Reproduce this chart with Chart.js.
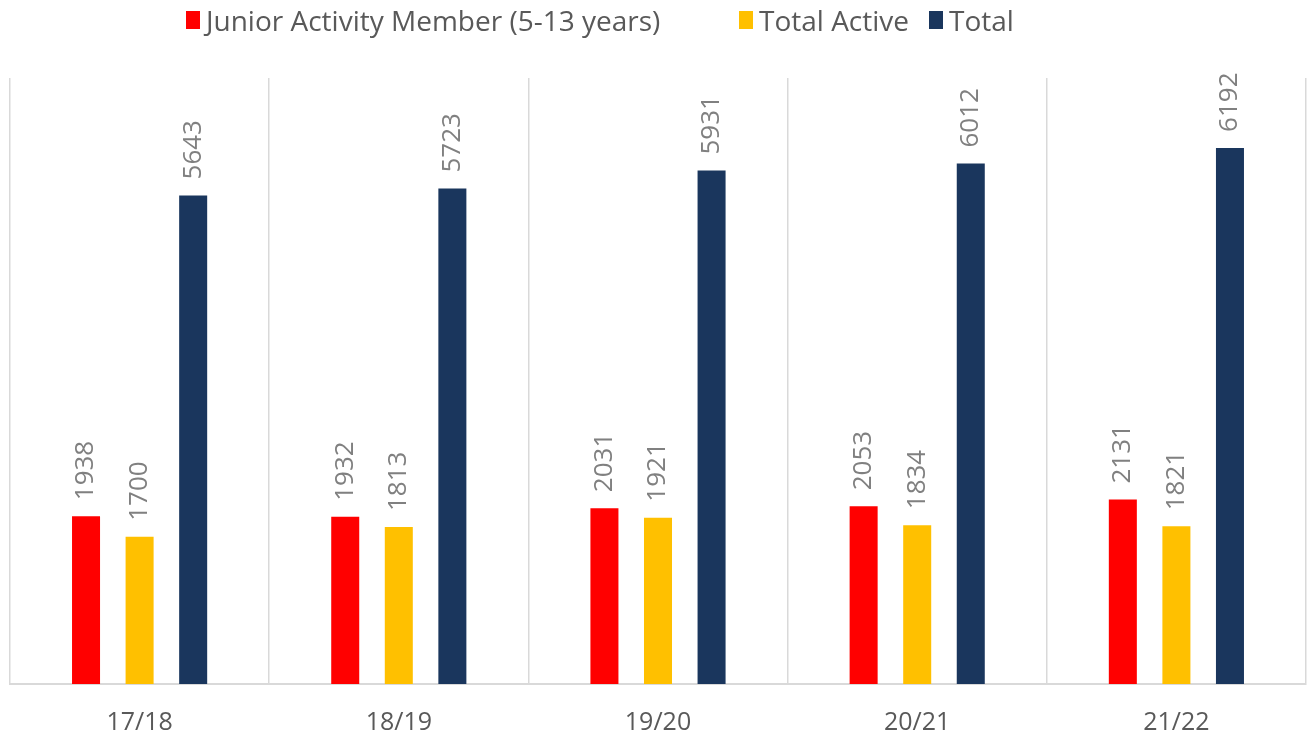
<!DOCTYPE html>
<html lang="en">
<head>
  <meta charset="UTF-8" />
  <title>Membership by season</title>
  <script src="https://cdn.jsdelivr.net/npm/chart.js"></script>
  <style>
    html, body { margin: 0; padding: 0; background: #fff; }
    body { width: 1312px; height: 737px; position: relative; overflow: hidden; font-family: 'Open Sans', sans-serif; }
    #wrap { position: absolute; left: 0; top: 0; width: 1312px; height: 737px; }
    .legend {
      position: absolute; left: 186px; top: 1px;
      display: flex; align-items: center;
      font-size: 28px; color: #595959; white-space: nowrap;
    }
    .legend span { display: inline-flex; align-items: center; flex-shrink: 0; }
    .legend i { display: inline-block; width: 14px; height: 18px; margin-right: 6px; }
  </style>
</head>
<body>
  <div id="wrap"><canvas id="chart"></canvas></div>
  <div class="legend" id="legend"></div>

  <script>
    // data
    const seasons = ['17/18', '18/19', '19/20', '20/21', '21/22'];
    const junior = [1938, 1932, 2031, 2053, 2131];
    const totalActive = [1700, 1813, 1921, 1834, 1821];
    const total = [5643, 5723, 5931, 6012, 6192];

    const seriesNames = ['Junior Activity Member (5-13 years)', 'Total Active', 'Total'];
    const seriesColors = ['#ff0000', '#ffc000', '#1a365d'];
    const legendWidths = [553, 190, 120];

    // html legend
    const legendEl = document.getElementById('legend');
    seriesNames.forEach((name, i) => {
      const s = document.createElement('span');
      s.style.width = legendWidths[i] + 'px';
      s.innerHTML = '<i style="background:' + seriesColors[i] + '"></i>' + name;
      legendEl.appendChild(s);
    });

    // value labels, rotated, above each bar
    const barLabels = {
      id: 'barLabels',
      afterDatasetsDraw(chart) {
        const ctx = chart.ctx;
        ctx.save();
        ctx.font = '26px "Open Sans"';
        ctx.fillStyle = '#808080';
        ctx.textAlign = 'left';
        ctx.textBaseline = 'middle';
        chart.data.datasets.forEach((ds, i) => {
          chart.getDatasetMeta(i).data.forEach((bar, j) => {
            ctx.save();
            ctx.translate(bar.x, bar.y - 16);
            ctx.rotate(-Math.PI / 2);
            ctx.fillText(String(ds.data[j]), 0, 0);
            ctx.restore();
          });
        });
        ctx.restore();
      }
    };

    new Chart(document.getElementById('chart'), {
      type: 'bar',
      data: {
        labels: seasons,
        datasets: [
          { label: seriesNames[0], data: junior, backgroundColor: seriesColors[0] },
          { label: seriesNames[1], data: totalActive, backgroundColor: seriesColors[1] },
          { label: seriesNames[2], data: total, backgroundColor: seriesColors[2] }
        ]
      },
      options: {
        responsive: true,
        maintainAspectRatio: false,
        animation: false,
        categoryPercentage: 0.62,
        barPercentage: 0.523,
        layout: { padding: { left: 10, right: 6, top: 78, bottom: -25 } },
        plugins: {
          legend: { display: false },
          tooltip: { enabled: false }
        },
        scales: {
          x: {
            grid: { color: '#d9d9d9', lineWidth: 1.5, drawTicks: false, offset: true },
            border: { color: '#d9d9d9', width: 2 },
            ticks: {
              color: '#595959',
              font: { family: 'Open Sans', size: 25 },
              padding: 24,
              maxRotation: 0
            }
          },
          y: {
            display: false,
            min: 0,
            max: 7000
          }
        }
      },
      plugins: [barLabels]
    });
  </script>
</body>
</html>
